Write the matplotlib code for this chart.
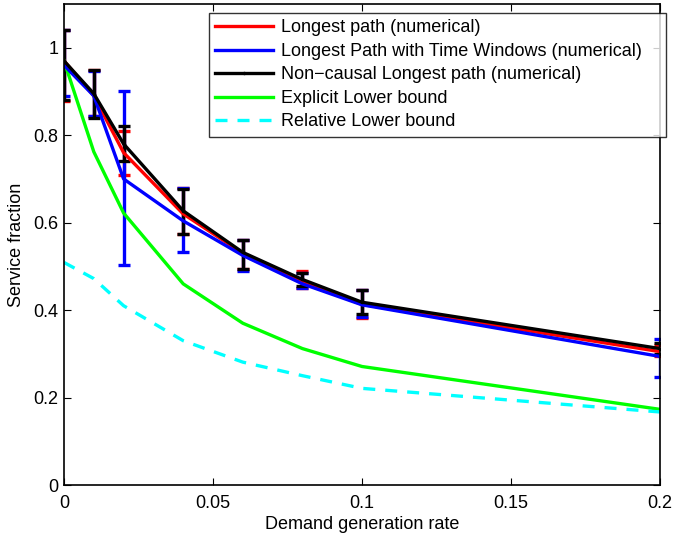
import numpy as np
import matplotlib
matplotlib.use('Agg')
import matplotlib.pyplot as plt
from matplotlib.lines import Line2D

plt.rcParams['font.family'] = ['Liberation Sans', 'DejaVu Sans']

# demand generation rates
rate = [0, 0.01, 0.02, 0.04, 0.06, 0.08, 0.1, 0.2]

# Longest path (numerical)
lp = [0.97, 0.89, 0.76, 0.62, 0.53, 0.465, 0.413, 0.305]
lp_lo = [0.878, 0.845, 0.71, 0.575, 0.495, 0.45, 0.383, 0.295]
lp_hi = [1.04, 0.95, 0.81, 0.68, 0.56, 0.49, 0.445, 0.32]

# Longest Path with Time Windows (numerical)
tw = [0.96, 0.89, 0.70, 0.604, 0.525, 0.46, 0.412, 0.294]
tw_lo = [0.89, 0.845, 0.504, 0.532, 0.49, 0.45, 0.385, 0.246]
tw_hi = [1.04, 0.946, 0.90, 0.68, 0.56, 0.485, 0.447, 0.333]

# Non-causal Longest path (numerical)
nc = [0.97, 0.895, 0.78, 0.627, 0.532, 0.47, 0.418, 0.312]
nc_lo = [0.88, 0.84, 0.74, 0.574, 0.495, 0.455, 0.39, 0.30]
nc_hi = [1.04, 0.95, 0.82, 0.677, 0.56, 0.485, 0.445, 0.325]

# bounds
explicit_lb = [0.97, 0.762, 0.622, 0.46, 0.37, 0.312, 0.271, 0.173]
relative_lb = [0.509, 0.472, 0.41, 0.33, 0.281, 0.25, 0.221, 0.167]

labels = ['Longest path (numerical)',
          'Longest Path with Time Windows (numerical)',
          'Non\u2212causal Longest path (numerical)',
          'Explicit Lower bound',
          'Relative Lower bound']


def yerr(c, lo, hi):
    c = np.array(c)
    return [c - np.array(lo), np.array(hi) - c]


fig = plt.figure(figsize=(6.73, 5.35), dpi=100)
ax = fig.add_axes([64 / 673, 50 / 535, 596 / 673, 481 / 535])

lw = 2.4
cs = 4.3
red, blue, green, cyan = (1, 0, 0), (0, 0, 1), (0, 1, 0), (0, 1, 1)
dash = (0, (3.6, 3.0))

ax.errorbar(rate, lp, yerr=yerr(lp, lp_lo, lp_hi), color=red, lw=lw,
            elinewidth=lw, capsize=cs, capthick=lw)
ax.errorbar(rate, tw, yerr=yerr(tw, tw_lo, tw_hi), color=blue, lw=lw,
            elinewidth=lw, capsize=cs, capthick=lw)
ax.errorbar(rate, nc, yerr=yerr(nc, nc_lo, nc_hi), color='k', lw=lw, marker='.',
            ms=3, elinewidth=lw, capsize=cs, capthick=lw)
ax.plot(rate, explicit_lb, color=green, lw=lw)
ax.plot(rate, relative_lb, color=cyan, lw=lw, ls=dash)

ax.set_xlim(0, 0.2)
ax.set_ylim(0, 1.1)
ax.set_xticks([0, 0.05, 0.1, 0.15, 0.2])
ax.set_xticklabels(['0', '0.05', '0.1', '0.15', '0.2'])
ax.set_yticks([0, 0.2, 0.4, 0.6, 0.8, 1.0])
ax.set_yticklabels(['0', '0.2', '0.4', '0.6', '0.8', '1'])
ax.tick_params(direction='in', top=True, right=True, labelsize=13, length=5)
ax.tick_params(axis='x', pad=7)
ax.tick_params(axis='y', pad=4)
for s in ax.spines.values():
    s.set_linewidth(1.2)

ax.set_xlabel('Demand generation rate', fontsize=13, labelpad=3)
ax.set_ylabel('Service fraction', fontsize=13, labelpad=6)

handles = [Line2D([], [], color=red, lw=lw),
           Line2D([], [], color=blue, lw=lw),
           Line2D([], [], color='k', lw=lw, marker='.', ms=3),
           Line2D([], [], color=green, lw=lw),
           Line2D([], [], color=cyan, lw=lw, ls=dash)]
leg = ax.legend(handles, labels, loc='upper left',
                bbox_to_anchor=(0.243, 0.726, 0.767, 0.255),
                mode='expand', fontsize=13, frameon=True, fancybox=False,
                borderaxespad=0, handlelength=3.2, handletextpad=0.45,
                labelspacing=0.36, borderpad=0.35)
leg.get_frame().set_edgecolor('k')
leg.get_frame().set_linewidth(1.0)

fig.savefig('out.png', dpi=100)
